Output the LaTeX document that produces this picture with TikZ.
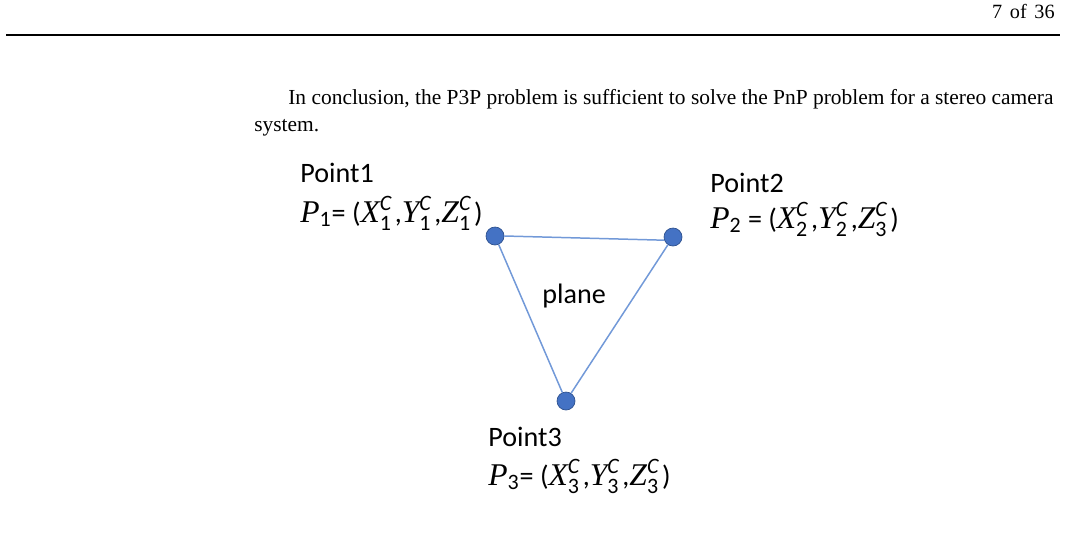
\documentclass[tikz,border=0pt]{standalone}
\usepackage{amsmath}
\usepackage{fontspec}
\usepackage{tikz}
\usepackage{xcolor}
\setmainfont{Liberation Serif}
\newfontfamily\figfont{Carlito}
\newfontfamily\symfont{Liberation Serif}
\usetikzlibrary{positioning}
\definecolor{ptblue}{RGB}{68, 114, 196}
\definecolor{ptedge}{RGB}{47, 82, 143}
\definecolor{planeline}{RGB}{114, 153, 216}
\tikzset{
    ptnode/.style={circle, fill=ptblue, draw=ptedge, line width=0.4pt, inner sep=0pt, minimum size=0.36cm},
    ptlabel/.style={anchor=base west, inner sep=0pt, font=\figfont\fontsize{16}{19}\selectfont},
    bodytext/.style={anchor=base west, inner sep=0pt, font=\fontsize{12.2}{14}\selectfont},
    planeedge/.style={draw=planeline, line width=0.85pt}
}
\newcommand{\csym}[1]{{\symfont\itshape\fontsize{18}{19}\selectfont #1}}
\newcommand{\cscr}[2]{$^{\text{\fontsize{12.5}{13}\selectfont\itshape #1}}_{\text{\fontsize{12.5}{13}\selectfont #2}}$\kern1.5pt}
\begin{document}
\begin{tikzpicture}[x=0.02cm, y=-0.02cm]
    \useasboundingbox (0,0) rectangle (1065,545);
    % page head
    \node[anchor=base east, inner sep=0pt, font=\fontsize{11.5}{13}\selectfont] (pagenum) at (1055,18) {7\kern1.5pt\ of\kern1.5pt\ 36};
    \coordinate (ruleL) at (6,35);
    \coordinate (ruleR) at (1060,35);
    \draw[line width=0.8pt] (ruleL) -- (ruleR);
    \node[bodytext] (para1) at (288,104) {In conclusion, the P3P problem is sufficient to solve the PnP problem for a stereo camera};
    \node[bodytext] (para2) at (254,131) {system.};

    % the three points
    \node[ptnode] (p1) at (495,236) {};
    \node[ptnode] (p2) at (673,237) {};
    \node[ptnode] (p3) at (566,401) {};

    \draw[planeedge] (p1.east) -- (p2.200);
    \draw[planeedge] (p1) -- (p3);
    \draw[planeedge] (p2) -- (p3);

    \node[ptlabel] (plane) at (542,303) {plane};

    \node[ptlabel] (name1) at (300,182) {Point1};
    \node[ptlabel] (coord1) at (300,222) {\csym{P}$_{\text{\fontsize{12.5}{13}\selectfont 1}}$= (\csym{X}\cscr{C}{1},\csym{Y}\cscr{C}{1},\csym{Z}\cscr{C}{1})};
    \node[ptlabel] (name2) at (710,192) {Point2};
    \node[ptlabel] (coord2) at (710,228) {\csym{P}$_{\text{\fontsize{12.5}{13}\selectfont 2}}$ = (\csym{X}\cscr{C}{2},\csym{Y}\cscr{C}{2},\csym{Z}\cscr{C}{3})};
    \node[ptlabel] (name3) at (488,446) {Point3};
    \node[ptlabel] (coord3) at (488,485) {\csym{P}$_{\text{\fontsize{12.5}{13}\selectfont 3}}$= (\csym{X}\cscr{C}{3},\csym{Y}\cscr{C}{3},\csym{Z}\cscr{C}{3})};
\end{tikzpicture}
\end{document}
